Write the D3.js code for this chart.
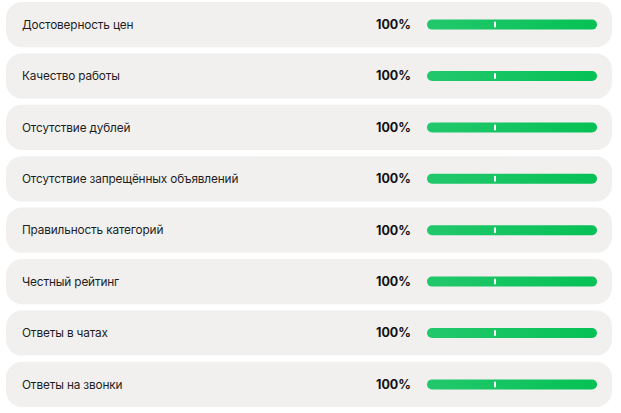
<!DOCTYPE html>
<html><head><meta charset="utf-8">
<script src="https://cdn.jsdelivr.net/npm/d3@7"></script>
<style>html,body{margin:0;padding:0;background:#fff;}svg{display:block;}</style>
</head><body><svg id="c" width="621" height="413"></svg>
<script>
const categories = ["Достоверность цен","Качество работы","Отсутствие дублей","Отсутствие запрещённых объявлений","Правильность категорий","Честный рейтинг","Ответы в чатах","Ответы на звонки"];
const values = [100,100,100,100,100,100,100,100];
const markers = [40,40,40,40,40,40,40,40];

const W = 621, H = 413;
const svg = d3.select("#c");
const defs = svg.append("defs");
const grad = defs.append("linearGradient").attr("id","g").attr("x1","0%").attr("x2","100%");
grad.append("stop").attr("offset","0%").attr("stop-color","#22c86c");
grad.append("stop").attr("offset","100%").attr("stop-color","#06c155");

const y = d3.scaleBand().domain(categories).range([2, 407]).paddingInner(0.12).paddingOuter(0);
const x = d3.scaleLinear().domain([0,100]).range([427, 597]);

const rows = svg.selectAll("g.row").data(categories).join("g").attr("class","row")
  .attr("transform", d => `translate(0,${y(d)})`);
const bh = y.bandwidth();
rows.append("rect").attr("x",6).attr("width",606).attr("height",bh).attr("rx",16).attr("fill","#f1f0ef");
rows.append("text").attr("x",22).attr("y",bh/2).attr("dy","0.35em")
  .attr("font-family","Inter, 'Noto Sans', sans-serif").attr("font-size",11.8).attr("letter-spacing",-0.15).attr("fill","#1e1e1e")
  .text(d=>d);
rows.append("text").attr("x",411).attr("y",bh/2).attr("dy","0.35em").attr("text-anchor","end")
  .attr("font-family","Inter, 'Noto Sans', sans-serif").attr("font-weight",700).attr("font-size",12.5).attr("fill","#111")
  .text((d,i)=>values[i]+"%");
rows.append("rect").attr("x",x(0)).attr("y",bh/2-5).attr("height",10).attr("rx",5)
  .attr("width",(d,i)=>x(values[i])-x(0)).attr("fill","url(#g)");
rows.append("rect").attr("x",(d,i)=>x(markers[i])-1).attr("y",bh/2-3).attr("width",2).attr("height",6).attr("rx",1)
  .attr("fill","#ffffff");
</script></body></html>
